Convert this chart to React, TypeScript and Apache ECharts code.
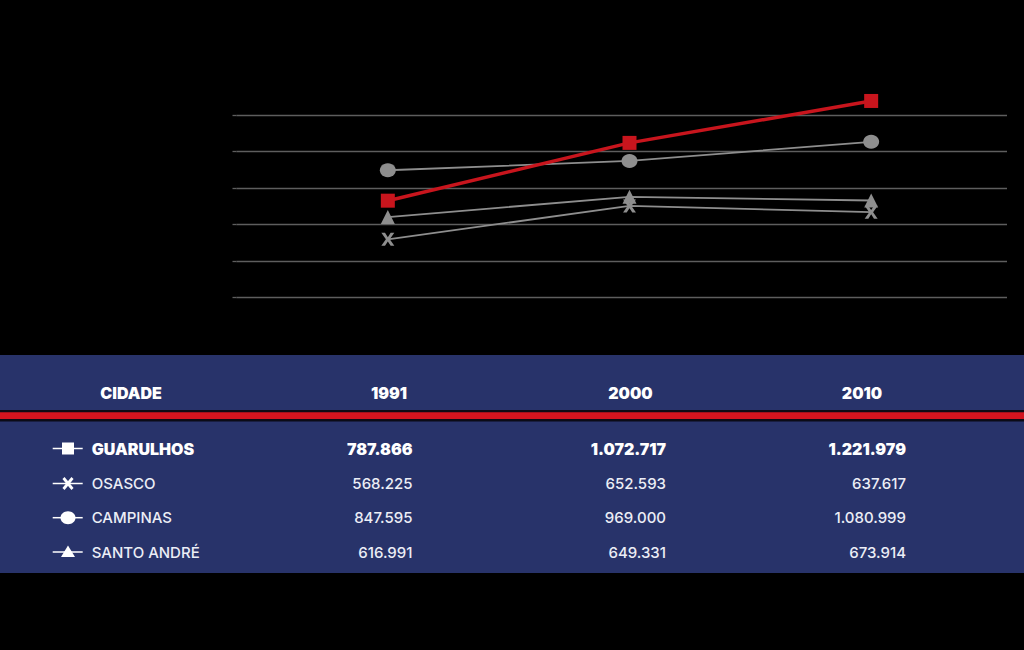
import React, { useEffect, useRef } from "react";
import * as echarts from "echarts";

// ---- data ----
const years = ["1991", "2000", "2010"];
const cities = ["GUARULHOS", "OSASCO", "CAMPINAS", "SANTO ANDRÉ"];
const guarulhosPop = [787866, 1072717, 1221979];
const osascoPop = [568225, 652593, 637617];
const campinasPop = [847595, 969000, 1080999];
const santoAndrePop = [616991, 649331, 673914];
// values as they are drawn in the reference line chart (the drawing is not to scale)
const guarulhosPlot = [730000, 1047000, 1277000];
const osascoPlot = [518000, 701000, 667000];
const campinasPlot = [897000, 948000, 1053000];
const santoAndrePlot = [640000, 751000, 731000];
const yMin = 200000;
const yMax = 1200000;
const yStep = 200000;
const headerLabel = "CIDADE";

const fmt = (n: number) => String(n).replace(/\B(?=(\d{3})+(?!\d))/g, ".");

const RED = "#c8151d";
const GRAY = "#8e8e8e";
const FONT = "Inter, 'Noto Sans', sans-serif";

export default function App() {
  const ref = useRef<HTMLDivElement>(null);
  useEffect(() => {
    document.body.style.margin = "0";
    document.body.style.background = "#000";
    const chart = echarts.init(ref.current!, undefined, { renderer: "svg" });

    const popRows = [guarulhosPop, osascoPop, campinasPop, santoAndrePop];
    const rowY = [448.5, 483.5, 517.7, 552];
    const colCenter = [389, 630.5, 862];
    const colRight = [412.5, 666, 906];

    const graphics: any[] = [
      { type: "rect", shape: { x: 0, y: 355, width: 1024, height: 218 }, style: { fill: "#28336a" }, silent: true },
      { type: "rect", shape: { x: 0, y: 410, width: 1024, height: 11.5 }, style: { fill: "#0b0b16" }, silent: true },
      { type: "rect", shape: { x: 0, y: 412.3, width: 1024, height: 6.8 }, style: { fill: "#d2141f" }, silent: true },
      {
        type: "text", x: 131, y: 393,
        style: { text: headerLabel, fill: "#fff", fontFamily: FONT, fontWeight: 900, fontSize: 16, textAlign: "center", textVerticalAlign: "middle" },
      },
    ];
    years.forEach((yr, i) => {
      graphics.push({
        type: "text", x: colCenter[i], y: 393,
        style: { text: yr, fill: "#fff", fontFamily: FONT, fontWeight: 900, fontSize: 16, textAlign: "center", textVerticalAlign: "middle" },
      });
    });
    cities.forEach((c, r) => {
      const bold = r === 0;
      const fill = bold ? "#fff" : "#eceef6";
      const weight = bold ? 900 : 500;
      const size = bold ? 16 : 15;
      graphics.push({
        type: "text", x: 91.7, y: rowY[r],
        style: { text: c, fill, fontFamily: FONT, fontWeight: weight, fontSize: size, textAlign: "left", textVerticalAlign: "middle" },
      });
      popRows[r].forEach((v, i) => {
        graphics.push({
          type: "text", x: colRight[i], y: rowY[r],
          style: { text: fmt(v), fill, fontFamily: FONT, fontWeight: weight, fontSize: size, textAlign: "right", textVerticalAlign: "middle" },
        });
      });
      // legend icon line
      graphics.push({
        type: "line", shape: { x1: 52.7, y1: rowY[r], x2: 82.7, y2: rowY[r] },
        style: { stroke: "#fff", lineWidth: 1.5 },
      });
    });
    const cx = 68;
    graphics.push(
      { type: "rect", shape: { x: cx - 6, y: rowY[0] - 6, width: 12, height: 12 }, style: { fill: "#fff" } },
      { type: "line", shape: { x1: cx - 4.5, y1: rowY[1] - 5.5, x2: cx + 4.5, y2: rowY[1] + 5.5 }, style: { stroke: "#fff", lineWidth: 2.8 } },
      { type: "line", shape: { x1: cx + 4.5, y1: rowY[1] - 5.5, x2: cx - 4.5, y2: rowY[1] + 5.5 }, style: { stroke: "#fff", lineWidth: 2.8 } },
      { type: "ellipse", shape: { cx, cy: rowY[2], rx: 7.5, ry: 6.5 }, style: { fill: "#fff" } },
      { type: "polygon", shape: { points: [[cx, rowY[3] - 6.5], [cx + 7, rowY[3] + 5], [cx - 7, rowY[3] + 5]] }, style: { fill: "#fff" } }
    );

    const xSymbol = "path://M0 0H3.4L6 4L8.6 0H12L7.8 6L12 12H8.6L6 8L3.4 12H0L4.2 6Z";
    const mk = (name: string, data: number[], symbol: string, size: any, color: string, width: number, z: number) => ({
      type: "line", name, data, xAxisIndex: 1, yAxisIndex: 1, symbol, symbolSize: size,
      showSymbol: true, clip: false, z,
      lineStyle: { color, width }, itemStyle: { color, opacity: 1 },
    });

    chart.setOption({
      animation: false,
      backgroundColor: "#000",
      textStyle: { fontFamily: FONT },
      grid: [
        { left: 236.5, right: 17, top: 115, bottom: 352.7 },
        { left: 267, right: 32, top: 115, bottom: 352.7 },
      ],
      xAxis: [
        { type: "category", gridIndex: 0, data: years, show: false },
        { type: "category", gridIndex: 1, data: years, show: false, boundaryGap: true },
      ],
      yAxis: [
        {
          type: "value", gridIndex: 0, min: yMin, max: yMax, interval: yStep,
          axisLine: { show: false },
          axisTick: { show: true, length: 4, lineStyle: { color: "#5e5e5e", width: 1.3 } },
          axisLabel: { show: false },
          splitLine: { show: true, lineStyle: { color: "#5e5e5e", width: 1.3 } },
        },
        {
          type: "value", gridIndex: 1, min: yMin, max: yMax, interval: yStep,
          show: false, splitLine: { show: false },
        },
      ],
      series: [
        mk(cities[2], campinasPlot, "circle", [16, 14], GRAY, 1.8, 2),
        mk(cities[3], santoAndrePlot, "triangle", [14, 14], GRAY, 1.8, 3),
        mk(cities[1], osascoPlot, xSymbol, [13, 13], GRAY, 1.8, 4),
        mk(cities[0], guarulhosPlot, "rect", [14, 14], RED, 3.5, 5),
      ],
      graphic: graphics,
    });
    return () => chart.dispose();
  }, []);
  return <div ref={ref} style={{ width: 1024, height: 650 }} />;
}
